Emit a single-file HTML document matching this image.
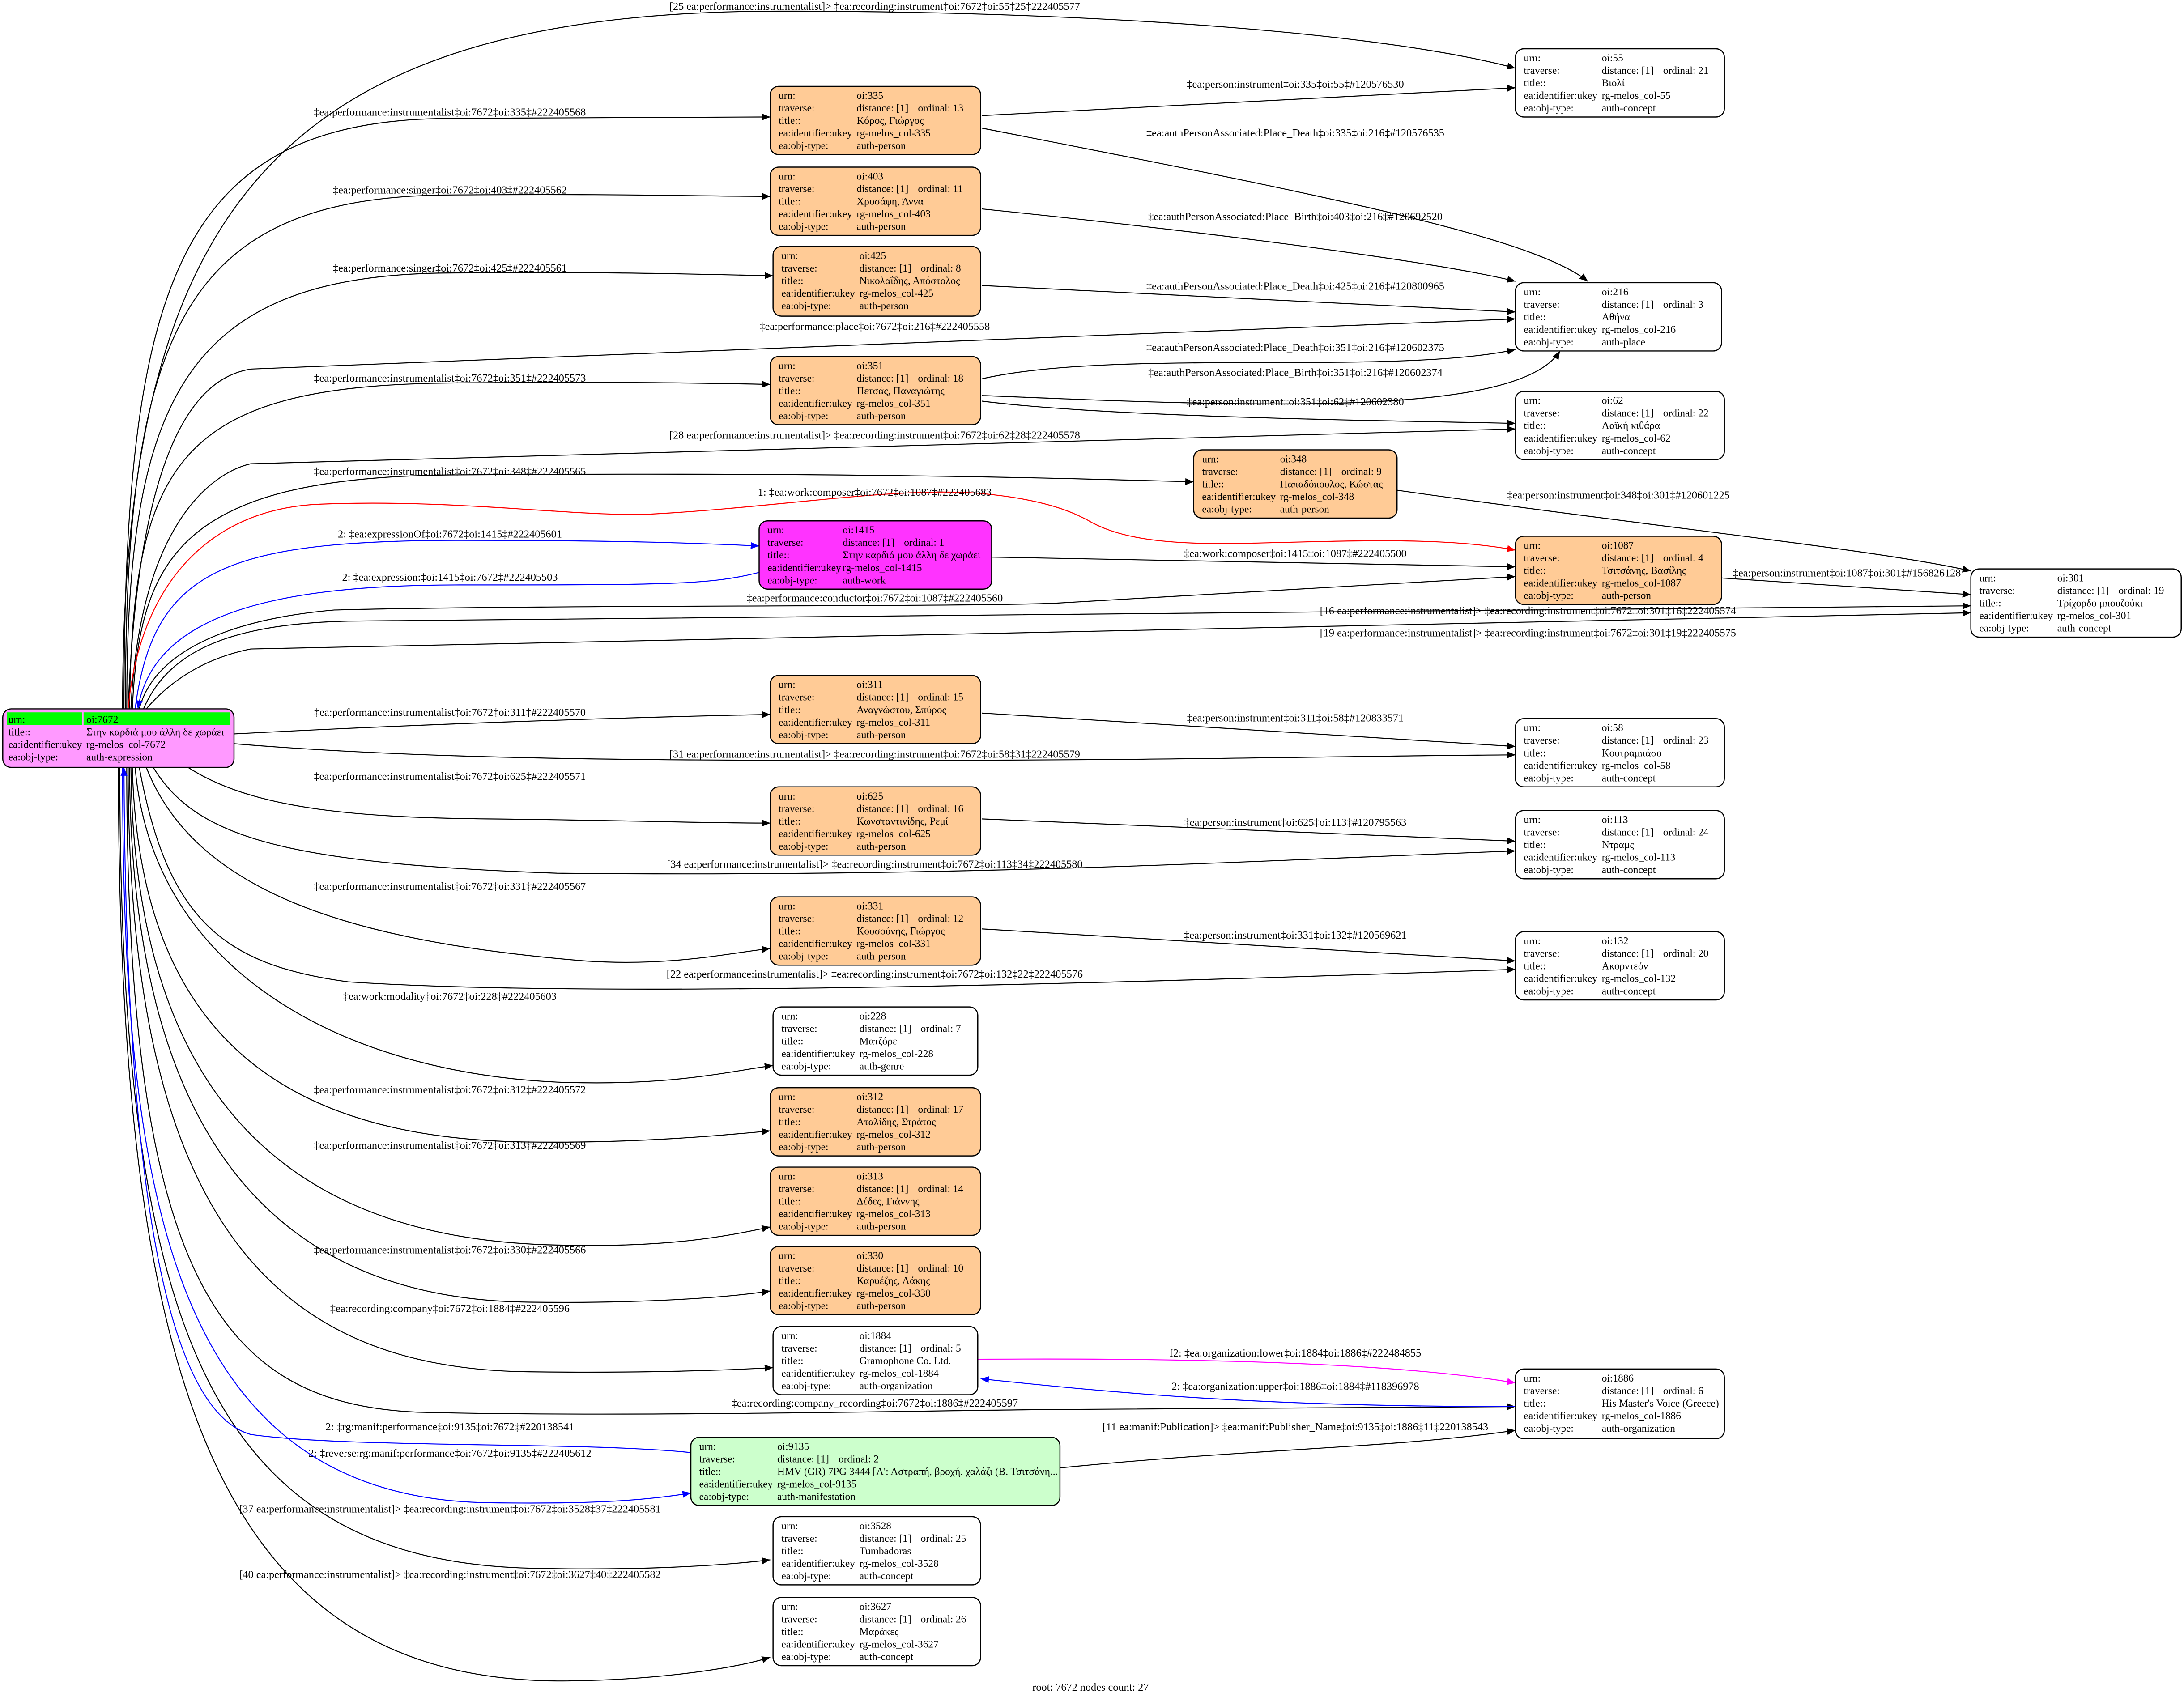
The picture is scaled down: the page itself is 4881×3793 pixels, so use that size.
<!DOCTYPE html>
<html><head><meta charset="utf-8"><style>html,body{margin:0;padding:0;background:#fff}svg{display:block}</style></head><body>
<svg xmlns="http://www.w3.org/2000/svg" width="4881" height="3793" viewBox="0 0 1568 1218.5" font-family="'Liberation Serif','DejaVu Serif',serif">
<defs>
<marker id="ak" markerUnits="userSpaceOnUse" markerWidth="7" markerHeight="5" refX="6" refY="2.5" orient="auto"><path d="M0,0 L6,2.5 L0,5 z" fill="#000"/></marker>
<marker id="ar" markerUnits="userSpaceOnUse" markerWidth="7" markerHeight="5" refX="6" refY="2.5" orient="auto"><path d="M0,0 L6,2.5 L0,5 z" fill="#f00"/></marker>
<marker id="ab" markerUnits="userSpaceOnUse" markerWidth="7" markerHeight="5" refX="6" refY="2.5" orient="auto"><path d="M0,0 L6,2.5 L0,5 z" fill="#00f"/></marker>
<marker id="am" markerUnits="userSpaceOnUse" markerWidth="7" markerHeight="5" refX="6" refY="2.5" orient="auto"><path d="M0,0 L6,2.5 L0,5 z" fill="#f0f"/></marker>
</defs>
<rect width="1568" height="1218.5" fill="#fff"/>
<g fill="none" stroke="#000" stroke-width="0.7" marker-end="url(#ak)">
<path d="M88,509 C88,150 200,8 560,8 C800,8 1000,25 1088,49"/>
<path d="M89,509 C89,200 130,86 323,85 C450,84 500,84 553,84"/>
<path d="M90,509 C90,240 130,141 323,140 C450,139 500,141 553,141"/>
<path d="M91,509 C91,290 130,197 323,196 C450,195 500,197 555,198"/>
<path d="M92,509 C100,300 150,270 180,265 L1088,229"/>
<path d="M93,509 C95,330 130,277 323,275 C450,274 500,275 553,276"/>
<path d="M94,509 C100,380 150,340 180,333 L1088,308"/>
<path d="M95,509 C100,400 130,343 323,341 C600,339 750,343 857,346"/>
<path d="M100,509 C110,470 160,445 240,438 C400,434 700,436 760,433 L1088,414"/>
<path d="M103,509 C120,470 160,448 250,446 L1415,435"/>
<path d="M105,509 C130,480 160,470 180,466 L1415,440"/>
<path d="M168,527 C300,520 450,515 553,513"/>
<path d="M168,534 C300,545 450,546 628,546 C850,546 950,543 1088,542"/>
<path d="M135,551 C180,580 250,587 350,588 C450,589 500,591 553,591"/>
<path d="M110,551 C140,600 200,620 400,627 C700,630 900,618 1088,611"/>
<path d="M105,551 C140,640 250,676 420,690 C480,694 520,685 553,681"/>
<path d="M100,551 C120,660 160,693 250,705 C400,715 700,710 1088,696"/>
<path d="M97,551 C110,700 250,770 400,777 C480,780 520,770 555,765"/>
<path d="M95,551 C100,740 200,818 380,820 C460,821 520,815 553,812"/>
<path d="M94,551 C96,780 200,890 400,894 C480,896 520,888 553,881"/>
<path d="M93,551 C94,820 200,933 380,935 C460,936 520,932 553,927"/>
<path d="M92,551 C92,880 200,983 380,985 C460,986 520,984 555,982"/>
<path d="M91,551 C91,920 160,1008 300,1014 C460,1018 700,1012 770,1012 L1088,1010"/>
<path d="M86,551 C86,950 150,1120 380,1126 C460,1128 520,1124 553,1120"/>
<path d="M85,551 C85,1000 160,1205 400,1207 C460,1207 520,1200 553,1190"/>
<path d="M705,83 L1088,63"/>
<path d="M705,92 C950,140 1100,170 1140,202"/>
<path d="M705,150 C900,170 1040,190 1088,202"/>
<path d="M705,205 L1088,224"/>
<path d="M705,272 C800,250 1000,270 1088,251"/>
<path d="M705,284 C900,292 1090,300 1120,252"/>
<path d="M705,288 C800,300 1000,302 1088,304"/>
<path d="M1003,352 C1200,380 1350,395 1415,410"/>
<path d="M712,400 L1088,407"/>
<path d="M1236,415 L1415,427"/>
<path d="M705,512 L1088,536"/>
<path d="M705,588 L1088,604"/>
<path d="M705,667 L1088,690"/>
<path d="M761,1054 C900,1040 1000,1040 1088,1027"/>
</g>
<path d="M92,509 C100,420 150,365 230,362 C330,358 420,372 470,369 C560,364 640,350 700,354 C750,358 770,368 780,373 C800,385 830,392 900,390 C980,388 1040,386 1088,395" fill="none" stroke="#f00" stroke-width="0.7" marker-end="url(#ar)"/>
<g fill="none" stroke="#00f" stroke-width="0.7" marker-end="url(#ab)">
<path d="M97,509 C110,410 160,388 330,388 C450,388 500,390 545,392"/>
<path d="M545,411 C510,420 480,420 330,420 C200,420 110,440 99,509"/>
<path d="M496,1043 C420,1035 250,1040 180,1030 C110,1010 90,800 89,551"/>
<path d="M88,551 C88,850 120,1075 350,1079 C420,1080 460,1078 496,1072"/>
<path d="M1088,1010 C900,1010 800,1000 704,990"/>
</g>
<path d="M702,976 C850,975 1000,978 1088,993" fill="none" stroke="#f0f" stroke-width="0.7" marker-end="url(#am)"/>

<g font-size="7.8" text-anchor="middle" fill="#000">
<text x="628" y="7">[25 ea:performance:instrumentalist]&gt; ‡ea:recording:instrument‡oi:7672‡oi:55‡25‡222405577</text>
<text x="323" y="83">‡ea:performance:instrumentalist‡oi:7672‡oi:335‡#222405568</text>
<text x="323" y="139">‡ea:performance:singer‡oi:7672‡oi:403‡#222405562</text>
<text x="323" y="195">‡ea:performance:singer‡oi:7672‡oi:425‡#222405561</text>
<text x="628" y="237">‡ea:performance:place‡oi:7672‡oi:216‡#222405558</text>
<text x="323" y="274">‡ea:performance:instrumentalist‡oi:7672‡oi:351‡#222405573</text>
<text x="628" y="315">[28 ea:performance:instrumentalist]&gt; ‡ea:recording:instrument‡oi:7672‡oi:62‡28‡222405578</text>
<text x="323" y="341">‡ea:performance:instrumentalist‡oi:7672‡oi:348‡#222405565</text>
<text x="628" y="356">1: ‡ea:work:composer‡oi:7672‡oi:1087‡#222405683</text>
<text x="323" y="386">2: ‡ea:expressionOf‡oi:7672‡oi:1415‡#222405601</text>
<text x="323" y="417">2: ‡ea:expression:‡oi:1415‡oi:7672‡#222405503</text>
<text x="628" y="432">‡ea:performance:conductor‡oi:7672‡oi:1087‡#222405560</text>
<text x="1097" y="441">[16 ea:performance:instrumentalist]&gt; ‡ea:recording:instrument‡oi:7672‡oi:301‡16‡222405574</text>
<text x="1097" y="457">[19 ea:performance:instrumentalist]&gt; ‡ea:recording:instrument‡oi:7672‡oi:301‡19‡222405575</text>
<text x="323" y="514">‡ea:performance:instrumentalist‡oi:7672‡oi:311‡#222405570</text>
<text x="628" y="544">[31 ea:performance:instrumentalist]&gt; ‡ea:recording:instrument‡oi:7672‡oi:58‡31‡222405579</text>
<text x="323" y="560">‡ea:performance:instrumentalist‡oi:7672‡oi:625‡#222405571</text>
<text x="628" y="623">[34 ea:performance:instrumentalist]&gt; ‡ea:recording:instrument‡oi:7672‡oi:113‡34‡222405580</text>
<text x="323" y="639">‡ea:performance:instrumentalist‡oi:7672‡oi:331‡#222405567</text>
<text x="628" y="702">[22 ea:performance:instrumentalist]&gt; ‡ea:recording:instrument‡oi:7672‡oi:132‡22‡222405576</text>
<text x="323" y="718">‡ea:work:modality‡oi:7672‡oi:228‡#222405603</text>
<text x="323" y="785">‡ea:performance:instrumentalist‡oi:7672‡oi:312‡#222405572</text>
<text x="323" y="825">‡ea:performance:instrumentalist‡oi:7672‡oi:313‡#222405569</text>
<text x="323" y="900">‡ea:performance:instrumentalist‡oi:7672‡oi:330‡#222405566</text>
<text x="323" y="942">‡ea:recording:company‡oi:7672‡oi:1884‡#222405596</text>
<text x="628" y="1010">‡ea:recording:company_recording‡oi:7672‡oi:1886‡#222405597</text>
<text x="323" y="1027">2: ‡rg:manif:performance‡oi:9135‡oi:7672‡#220138541</text>
<text x="323" y="1046">2: ‡reverse:rg:manif:performance‡oi:7672‡oi:9135‡#222405612</text>
<text x="323" y="1086">[37 ea:performance:instrumentalist]&gt; ‡ea:recording:instrument‡oi:7672‡oi:3528‡37‡222405581</text>
<text x="323" y="1133">[40 ea:performance:instrumentalist]&gt; ‡ea:recording:instrument‡oi:7672‡oi:3627‡40‡222405582</text>
<text x="930" y="63">‡ea:person:instrument‡oi:335‡oi:55‡#120576530</text>
<text x="930" y="98">‡ea:authPersonAssociated:Place_Death‡oi:335‡oi:216‡#120576535</text>
<text x="930" y="158">‡ea:authPersonAssociated:Place_Birth‡oi:403‡oi:216‡#120692520</text>
<text x="930" y="208">‡ea:authPersonAssociated:Place_Death‡oi:425‡oi:216‡#120800965</text>
<text x="930" y="252">‡ea:authPersonAssociated:Place_Death‡oi:351‡oi:216‡#120602375</text>
<text x="930" y="270">‡ea:authPersonAssociated:Place_Birth‡oi:351‡oi:216‡#120602374</text>
<text x="930" y="291">‡ea:person:instrument‡oi:351‡oi:62‡#120602380</text>
<text x="1162" y="358">‡ea:person:instrument‡oi:348‡oi:301‡#120601225</text>
<text x="930" y="400">‡ea:work:composer‡oi:1415‡oi:1087‡#222405500</text>
<text x="1326" y="414">‡ea:person:instrument‡oi:1087‡oi:301‡#156826128</text>
<text x="930" y="518">‡ea:person:instrument‡oi:311‡oi:58‡#120833571</text>
<text x="930" y="593">‡ea:person:instrument‡oi:625‡oi:113‡#120795563</text>
<text x="930" y="674">‡ea:person:instrument‡oi:331‡oi:132‡#120569621</text>
<text x="930" y="974">f2: ‡ea:organization:lower‡oi:1884‡oi:1886‡#222484855</text>
<text x="930" y="998">2: ‡ea:organization:upper‡oi:1886‡oi:1884‡#118396978</text>
<text x="930" y="1027">[11 ea:manif:Publication]&gt; ‡ea:manif:Publisher_Name‡oi:9135‡oi:1886‡11‡220138543</text>
<text x="783" y="1214">root: 7672 nodes count: 27</text>
</g>

<g font-size="7.5" fill="#000">
<rect x="2" y="509" width="166" height="42" rx="6" fill="#ff99ff" stroke="#000" stroke-width="0.8"/>
<rect x="5" y="511.5" width="54" height="9" fill="#00ff00"/><rect x="60" y="511.5" width="105" height="9" fill="#00ff00"/>
<text x="6" y="519">urn:</text><text x="62" y="519">oi:7672</text>
<text x="6" y="528">title::</text><text x="62" y="528">Στην καρδιά μου άλλη δε χωράει</text>
<text x="6" y="537">ea:identifier:ukey</text><text x="62" y="537">rg-melos_col-7672</text>
<text x="6" y="546">ea:obj-type:</text><text x="62" y="546">auth-expression</text>
</g>

<g font-size="7.5" fill="#000">
<g transform="translate(1088,35)"><rect width="150" height="49" rx="6" fill="#fff" stroke="#000" stroke-width="0.8"/><text x="6" y="9">urn:</text><text x="62" y="9">oi:55</text><text x="6" y="18">traverse:</text><text x="62" y="18">distance: [1]</text><text x="106" y="18">ordinal: 21</text><text x="6" y="27">title::</text><text x="62" y="27">Βιολί</text><text x="6" y="36">ea:identifier:ukey</text><text x="62" y="36">rg-melos_col-55</text><text x="6" y="45">ea:obj-type:</text><text x="62" y="45">auth-concept</text></g>
<g transform="translate(553,62)"><rect width="151" height="49" rx="6" fill="#ffcb96" stroke="#000" stroke-width="0.8"/><text x="6" y="9">urn:</text><text x="62" y="9">oi:335</text><text x="6" y="18">traverse:</text><text x="62" y="18">distance: [1]</text><text x="106" y="18">ordinal: 13</text><text x="6" y="27">title::</text><text x="62" y="27">Κόρος, Γιώργος</text><text x="6" y="36">ea:identifier:ukey</text><text x="62" y="36">rg-melos_col-335</text><text x="6" y="45">ea:obj-type:</text><text x="62" y="45">auth-person</text></g>
<g transform="translate(553,120)"><rect width="151" height="49" rx="6" fill="#ffcb96" stroke="#000" stroke-width="0.8"/><text x="6" y="9">urn:</text><text x="62" y="9">oi:403</text><text x="6" y="18">traverse:</text><text x="62" y="18">distance: [1]</text><text x="106" y="18">ordinal: 11</text><text x="6" y="27">title::</text><text x="62" y="27">Χρυσάφη, Άννα</text><text x="6" y="36">ea:identifier:ukey</text><text x="62" y="36">rg-melos_col-403</text><text x="6" y="45">ea:obj-type:</text><text x="62" y="45">auth-person</text></g>
<g transform="translate(555,177)"><rect width="149" height="50" rx="6" fill="#ffcb96" stroke="#000" stroke-width="0.8"/><text x="6" y="9">urn:</text><text x="62" y="9">oi:425</text><text x="6" y="18">traverse:</text><text x="62" y="18">distance: [1]</text><text x="106" y="18">ordinal: 8</text><text x="6" y="27">title::</text><text x="62" y="27">Νικολαΐδης, Απόστολος</text><text x="6" y="36">ea:identifier:ukey</text><text x="62" y="36">rg-melos_col-425</text><text x="6" y="45">ea:obj-type:</text><text x="62" y="45">auth-person</text></g>
<g transform="translate(1088,203)"><rect width="148" height="49" rx="6" fill="#fff" stroke="#000" stroke-width="0.8"/><text x="6" y="9">urn:</text><text x="62" y="9">oi:216</text><text x="6" y="18">traverse:</text><text x="62" y="18">distance: [1]</text><text x="106" y="18">ordinal: 3</text><text x="6" y="27">title::</text><text x="62" y="27">Αθήνα</text><text x="6" y="36">ea:identifier:ukey</text><text x="62" y="36">rg-melos_col-216</text><text x="6" y="45">ea:obj-type:</text><text x="62" y="45">auth-place</text></g>
<g transform="translate(553,256)"><rect width="151" height="49" rx="6" fill="#ffcb96" stroke="#000" stroke-width="0.8"/><text x="6" y="9">urn:</text><text x="62" y="9">oi:351</text><text x="6" y="18">traverse:</text><text x="62" y="18">distance: [1]</text><text x="106" y="18">ordinal: 18</text><text x="6" y="27">title::</text><text x="62" y="27">Πετσάς, Παναγιώτης</text><text x="6" y="36">ea:identifier:ukey</text><text x="62" y="36">rg-melos_col-351</text><text x="6" y="45">ea:obj-type:</text><text x="62" y="45">auth-person</text></g>
<g transform="translate(1088,281)"><rect width="150" height="49" rx="6" fill="#fff" stroke="#000" stroke-width="0.8"/><text x="6" y="9">urn:</text><text x="62" y="9">oi:62</text><text x="6" y="18">traverse:</text><text x="62" y="18">distance: [1]</text><text x="106" y="18">ordinal: 22</text><text x="6" y="27">title::</text><text x="62" y="27">Λαϊκή κιθάρα</text><text x="6" y="36">ea:identifier:ukey</text><text x="62" y="36">rg-melos_col-62</text><text x="6" y="45">ea:obj-type:</text><text x="62" y="45">auth-concept</text></g>
<g transform="translate(857,323)"><rect width="146" height="49" rx="6" fill="#ffcb96" stroke="#000" stroke-width="0.8"/><text x="6" y="9">urn:</text><text x="62" y="9">oi:348</text><text x="6" y="18">traverse:</text><text x="62" y="18">distance: [1]</text><text x="106" y="18">ordinal: 9</text><text x="6" y="27">title::</text><text x="62" y="27">Παπαδόπουλος, Κώστας</text><text x="6" y="36">ea:identifier:ukey</text><text x="62" y="36">rg-melos_col-348</text><text x="6" y="45">ea:obj-type:</text><text x="62" y="45">auth-person</text></g>
<g transform="translate(545,374)"><rect width="167" height="49" rx="6" fill="#ff33ff" stroke="#000" stroke-width="0.8"/><text x="6" y="9">urn:</text><text x="60" y="9">oi:1415</text><text x="6" y="18">traverse:</text><text x="60" y="18">distance: [1]</text><text x="104" y="18">ordinal: 1</text><text x="6" y="27">title::</text><text x="60" y="27">Στην καρδιά μου άλλη δε χωράει</text><text x="6" y="36">ea:identifier:ukey</text><text x="60" y="36">rg-melos_col-1415</text><text x="6" y="45">ea:obj-type:</text><text x="60" y="45">auth-work</text></g>
<g transform="translate(1088,385)"><rect width="148" height="49" rx="6" fill="#ffcb96" stroke="#000" stroke-width="0.8"/><text x="6" y="9">urn:</text><text x="62" y="9">oi:1087</text><text x="6" y="18">traverse:</text><text x="62" y="18">distance: [1]</text><text x="106" y="18">ordinal: 4</text><text x="6" y="27">title::</text><text x="62" y="27">Τσιτσάνης, Βασίλης</text><text x="6" y="36">ea:identifier:ukey</text><text x="62" y="36">rg-melos_col-1087</text><text x="6" y="45">ea:obj-type:</text><text x="62" y="45">auth-person</text></g>
<g transform="translate(1415,408.5)"><rect width="151" height="49" rx="6" fill="#fff" stroke="#000" stroke-width="0.8"/><text x="6" y="9">urn:</text><text x="62" y="9">oi:301</text><text x="6" y="18">traverse:</text><text x="62" y="18">distance: [1]</text><text x="106" y="18">ordinal: 19</text><text x="6" y="27">title::</text><text x="62" y="27">Τρίχορδο μπουζούκι</text><text x="6" y="36">ea:identifier:ukey</text><text x="62" y="36">rg-melos_col-301</text><text x="6" y="45">ea:obj-type:</text><text x="62" y="45">auth-concept</text></g>
<g transform="translate(553,485)"><rect width="151" height="49" rx="6" fill="#ffcb96" stroke="#000" stroke-width="0.8"/><text x="6" y="9">urn:</text><text x="62" y="9">oi:311</text><text x="6" y="18">traverse:</text><text x="62" y="18">distance: [1]</text><text x="106" y="18">ordinal: 15</text><text x="6" y="27">title::</text><text x="62" y="27">Αναγνώστου, Σπύρος</text><text x="6" y="36">ea:identifier:ukey</text><text x="62" y="36">rg-melos_col-311</text><text x="6" y="45">ea:obj-type:</text><text x="62" y="45">auth-person</text></g>
<g transform="translate(1088,516)"><rect width="150" height="49" rx="6" fill="#fff" stroke="#000" stroke-width="0.8"/><text x="6" y="9">urn:</text><text x="62" y="9">oi:58</text><text x="6" y="18">traverse:</text><text x="62" y="18">distance: [1]</text><text x="106" y="18">ordinal: 23</text><text x="6" y="27">title::</text><text x="62" y="27">Κουτραμπάσο</text><text x="6" y="36">ea:identifier:ukey</text><text x="62" y="36">rg-melos_col-58</text><text x="6" y="45">ea:obj-type:</text><text x="62" y="45">auth-concept</text></g>
<g transform="translate(553,565)"><rect width="151" height="49" rx="6" fill="#ffcb96" stroke="#000" stroke-width="0.8"/><text x="6" y="9">urn:</text><text x="62" y="9">oi:625</text><text x="6" y="18">traverse:</text><text x="62" y="18">distance: [1]</text><text x="106" y="18">ordinal: 16</text><text x="6" y="27">title::</text><text x="62" y="27">Κωνσταντινίδης, Ρεμί</text><text x="6" y="36">ea:identifier:ukey</text><text x="62" y="36">rg-melos_col-625</text><text x="6" y="45">ea:obj-type:</text><text x="62" y="45">auth-person</text></g>
<g transform="translate(1088,582)"><rect width="150" height="49" rx="6" fill="#fff" stroke="#000" stroke-width="0.8"/><text x="6" y="9">urn:</text><text x="62" y="9">oi:113</text><text x="6" y="18">traverse:</text><text x="62" y="18">distance: [1]</text><text x="106" y="18">ordinal: 24</text><text x="6" y="27">title::</text><text x="62" y="27">Ντραμς</text><text x="6" y="36">ea:identifier:ukey</text><text x="62" y="36">rg-melos_col-113</text><text x="6" y="45">ea:obj-type:</text><text x="62" y="45">auth-concept</text></g>
<g transform="translate(553,644)"><rect width="151" height="49" rx="6" fill="#ffcb96" stroke="#000" stroke-width="0.8"/><text x="6" y="9">urn:</text><text x="62" y="9">oi:331</text><text x="6" y="18">traverse:</text><text x="62" y="18">distance: [1]</text><text x="106" y="18">ordinal: 12</text><text x="6" y="27">title::</text><text x="62" y="27">Κουσούνης, Γιώργος</text><text x="6" y="36">ea:identifier:ukey</text><text x="62" y="36">rg-melos_col-331</text><text x="6" y="45">ea:obj-type:</text><text x="62" y="45">auth-person</text></g>
<g transform="translate(1088,669)"><rect width="150" height="49" rx="6" fill="#fff" stroke="#000" stroke-width="0.8"/><text x="6" y="9">urn:</text><text x="62" y="9">oi:132</text><text x="6" y="18">traverse:</text><text x="62" y="18">distance: [1]</text><text x="106" y="18">ordinal: 20</text><text x="6" y="27">title::</text><text x="62" y="27">Ακορντεόν</text><text x="6" y="36">ea:identifier:ukey</text><text x="62" y="36">rg-melos_col-132</text><text x="6" y="45">ea:obj-type:</text><text x="62" y="45">auth-concept</text></g>
<g transform="translate(555,723)"><rect width="147" height="49" rx="6" fill="#fff" stroke="#000" stroke-width="0.8"/><text x="6" y="9">urn:</text><text x="62" y="9">oi:228</text><text x="6" y="18">traverse:</text><text x="62" y="18">distance: [1]</text><text x="106" y="18">ordinal: 7</text><text x="6" y="27">title::</text><text x="62" y="27">Ματζόρε</text><text x="6" y="36">ea:identifier:ukey</text><text x="62" y="36">rg-melos_col-228</text><text x="6" y="45">ea:obj-type:</text><text x="62" y="45">auth-genre</text></g>
<g transform="translate(553,781)"><rect width="151" height="49" rx="6" fill="#ffcb96" stroke="#000" stroke-width="0.8"/><text x="6" y="9">urn:</text><text x="62" y="9">oi:312</text><text x="6" y="18">traverse:</text><text x="62" y="18">distance: [1]</text><text x="106" y="18">ordinal: 17</text><text x="6" y="27">title::</text><text x="62" y="27">Αταλίδης, Στράτος</text><text x="6" y="36">ea:identifier:ukey</text><text x="62" y="36">rg-melos_col-312</text><text x="6" y="45">ea:obj-type:</text><text x="62" y="45">auth-person</text></g>
<g transform="translate(553,838)"><rect width="151" height="49" rx="6" fill="#ffcb96" stroke="#000" stroke-width="0.8"/><text x="6" y="9">urn:</text><text x="62" y="9">oi:313</text><text x="6" y="18">traverse:</text><text x="62" y="18">distance: [1]</text><text x="106" y="18">ordinal: 14</text><text x="6" y="27">title::</text><text x="62" y="27">Δέδες, Γιάννης</text><text x="6" y="36">ea:identifier:ukey</text><text x="62" y="36">rg-melos_col-313</text><text x="6" y="45">ea:obj-type:</text><text x="62" y="45">auth-person</text></g>
<g transform="translate(553,895)"><rect width="151" height="49" rx="6" fill="#ffcb96" stroke="#000" stroke-width="0.8"/><text x="6" y="9">urn:</text><text x="62" y="9">oi:330</text><text x="6" y="18">traverse:</text><text x="62" y="18">distance: [1]</text><text x="106" y="18">ordinal: 10</text><text x="6" y="27">title::</text><text x="62" y="27">Καρυέζης, Λάκης</text><text x="6" y="36">ea:identifier:ukey</text><text x="62" y="36">rg-melos_col-330</text><text x="6" y="45">ea:obj-type:</text><text x="62" y="45">auth-person</text></g>
<g transform="translate(555,952.5)"><rect width="147" height="49" rx="6" fill="#fff" stroke="#000" stroke-width="0.8"/><text x="6" y="9">urn:</text><text x="62" y="9">oi:1884</text><text x="6" y="18">traverse:</text><text x="62" y="18">distance: [1]</text><text x="106" y="18">ordinal: 5</text><text x="6" y="27">title::</text><text x="62" y="27">Gramophone Co. Ltd.</text><text x="6" y="36">ea:identifier:ukey</text><text x="62" y="36">rg-melos_col-1884</text><text x="6" y="45">ea:obj-type:</text><text x="62" y="45">auth-organization</text></g>
<g transform="translate(1088,983)"><rect width="150" height="50" rx="6" fill="#fff" stroke="#000" stroke-width="0.8"/><text x="6" y="9">urn:</text><text x="62" y="9">oi:1886</text><text x="6" y="18">traverse:</text><text x="62" y="18">distance: [1]</text><text x="106" y="18">ordinal: 6</text><text x="6" y="27">title::</text><text x="62" y="27">His Master's Voice (Greece)</text><text x="6" y="36">ea:identifier:ukey</text><text x="62" y="36">rg-melos_col-1886</text><text x="6" y="45">ea:obj-type:</text><text x="62" y="45">auth-organization</text></g>
<g transform="translate(496,1032)"><rect width="265" height="49" rx="6" fill="#ccffcc" stroke="#000" stroke-width="0.8"/><text x="6" y="9">urn:</text><text x="62" y="9">oi:9135</text><text x="6" y="18">traverse:</text><text x="62" y="18">distance: [1]</text><text x="106" y="18">ordinal: 2</text><text x="6" y="27">title::</text><text x="62" y="27">HMV (GR) 7PG 3444 [Α': Αστραπή, βροχή, χαλάζι (Β. Τσιτσάνη...</text><text x="6" y="36">ea:identifier:ukey</text><text x="62" y="36">rg-melos_col-9135</text><text x="6" y="45">ea:obj-type:</text><text x="62" y="45">auth-manifestation</text></g>
<g transform="translate(555,1089)"><rect width="149" height="49" rx="6" fill="#fff" stroke="#000" stroke-width="0.8"/><text x="6" y="9">urn:</text><text x="62" y="9">oi:3528</text><text x="6" y="18">traverse:</text><text x="62" y="18">distance: [1]</text><text x="106" y="18">ordinal: 25</text><text x="6" y="27">title::</text><text x="62" y="27">Tumbadoras</text><text x="6" y="36">ea:identifier:ukey</text><text x="62" y="36">rg-melos_col-3528</text><text x="6" y="45">ea:obj-type:</text><text x="62" y="45">auth-concept</text></g>
<g transform="translate(555,1147)"><rect width="149" height="49" rx="6" fill="#fff" stroke="#000" stroke-width="0.8"/><text x="6" y="9">urn:</text><text x="62" y="9">oi:3627</text><text x="6" y="18">traverse:</text><text x="62" y="18">distance: [1]</text><text x="106" y="18">ordinal: 26</text><text x="6" y="27">title::</text><text x="62" y="27">Μαράκες</text><text x="6" y="36">ea:identifier:ukey</text><text x="62" y="36">rg-melos_col-3627</text><text x="6" y="45">ea:obj-type:</text><text x="62" y="45">auth-concept</text></g>
</g>
</svg>
</body></html>
